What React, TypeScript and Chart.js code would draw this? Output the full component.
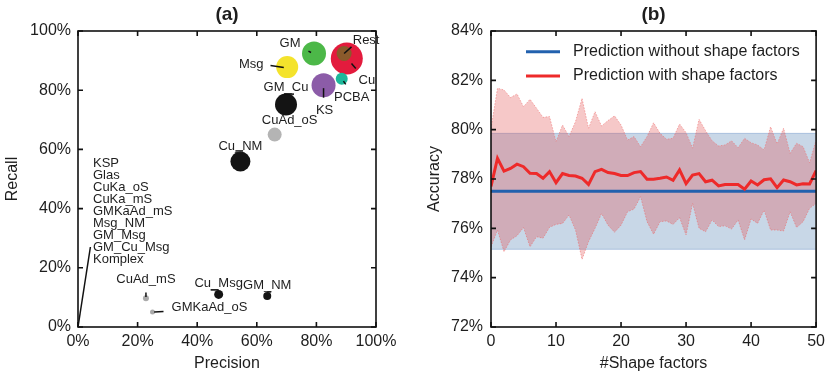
import React, { useEffect, useRef } from 'react';
import { Chart, registerables } from 'chart.js';

Chart.register(...registerables);

const FONT = "'Liberation Sans', Arial, Helvetica, sans-serif";
const TEXT = '#1e1e1e';

// ---------- Panel (a): precision / recall per class ----------
const classNames = [
  'Cu', 'Rest', 'GM', 'Msg', 'PCBA', 'KS', 'GM_Cu', 'CuAd_oS', 'Cu_NM',
  'Cu_Msg', 'GM_NM', 'CuAd_mS', 'GMKaAd_oS',
  'KSP', 'Glas', 'CuKa_oS', 'CuKa_mS', 'GMKaAd_mS', 'Msg_NM', 'GM_Msg', 'GM_Cu_Msg', 'Komplex',
];
const precision = [90.2, 89.3, 79.2, 70.2, 88.5, 82.4, 69.8, 66.0, 54.5, 47.2, 63.5, 22.8, 25.0, 0, 0, 0, 0, 0, 0, 0, 0, 0];
const recall = [90.7, 92.4, 92.4, 87.8, 83.9, 81.7, 75.2, 65.0, 55.9, 11.0, 10.5, 9.7, 5.1, 0, 0, 0, 0, 0, 0, 0, 0, 0];
const bubbleRadius = [16, 7.5, 12, 11, 6, 12, 11, 7, 10, 4.5, 4, 3, 2.5, 1, 1, 1, 1, 1, 1, 1, 1, 1];
const bubbleColors = [
  '#e31b3d', '#8a5a2b', '#4cb848', '#f4e32c', '#1db89b', '#8c5ca8', '#141414', '#b4b4b4', '#141414',
  '#141414', '#141414', '#aaaaaa', '#aaaaaa',
  '#141414', '#141414', '#141414', '#141414', '#141414', '#141414', '#141414', '#141414', '#141414',
];
const stackedNames = ['KSP', 'Glas', 'CuKa_oS', 'CuKa_mS', 'GMKaAd_mS', 'Msg_NM', 'GM_Msg', 'GM_Cu_Msg', 'Komplex'];

// ---------- Panel (b): accuracy vs number of shape factors ----------
const shapeFactors = [
  0, 1, 2, 3, 4, 5, 6, 7, 8, 9, 10, 11, 12, 13, 14, 15, 16, 17, 18, 19, 20, 21, 22, 23, 24, 25,
  26, 27, 28, 29, 30, 31, 32, 33, 34, 35, 36, 37, 38, 39, 40, 41, 42, 43, 44, 45, 46, 47, 48, 49, 50,
];
const accWith = [
  77.7, 78.84, 78.32, 78.43, 78.6, 78.5, 78.23, 78.22, 78.03, 78.3, 77.85, 78.22, 78.14, 78.12, 78.03, 77.78,
  78.3, 78.39, 78.26, 78.22, 78.14, 78.14, 78.26, 78.3, 77.99, 77.99, 78.03, 78.08, 77.95, 78.37, 77.81,
  78.16, 78.22, 77.89, 77.95, 77.72, 77.78, 77.78, 77.78, 77.59, 77.92, 77.76, 77.97, 78.01, 77.65, 77.96,
  77.89, 77.76, 77.81, 77.8, 78.34,
];
const accWithUpper = [
  80.05, 81.68, 81.61, 81.3, 81.45, 80.93, 81.23, 80.87, 80.5, 80.53, 79.51, 80.19, 79.72, 80.33, 81.27, 80.06,
  80.73, 80.15, 80.37, 80.56, 80.19, 79.58, 79.72, 79.31, 79.72, 80.28, 79.85, 79.61, 79.65, 80.23, 79.88,
  79.25, 80.42, 79.96, 79.55, 79.34, 79.38, 79.55, 79.27, 79.65, 79.47, 79.38, 79.18, 80.12, 79.42, 80.06,
  79.04, 79.45, 79.31, 78.66, 79.58,
];
const accWithLower = [
  75.25, 75.93, 75.05, 75.53, 75.7, 76.03, 75.25, 75.66, 75.6, 76.04, 76.16, 76.2, 76.54, 75.93, 74.74, 75.46,
  76.0, 76.6, 76.13, 75.84, 76.13, 76.67, 76.78, 77.28, 76.27, 75.76, 76.27, 76.3, 76.16, 76.43, 75.73,
  77.01, 76.0, 75.86, 76.34, 76.07, 76.1, 75.97, 76.34, 75.53, 76.38, 76.2, 76.74, 75.93, 75.93, 75.89,
  76.67, 76.03, 76.27, 76.81, 77.01,
];
const baselineX = [0, 50];
const accWithout = [77.5, 77.5];
const accWithoutUpper = [79.85, 79.85];
const accWithoutLower = [75.15, 75.15];

// ---------- annotation layout (pixel offsets from each mark) ----------
const labelLayout: Record<string, { dx: number; dy: number; line?: number[] }> = {
  Cu: { dx: 20, dy: 22, line: [4.7, 5, 9, 10] },
  Rest: { dx: 22, dy: -13, line: [0, 0, 7.4, -6.6] },
  GM: { dx: -24, dy: -10, line: [-5.6, -2.3, -3, -1] },
  Msg: { dx: -36, dy: -3, line: [-16.7, -1.7, -3.4, 0.3] },
  PCBA: { dx: 10, dy: 19, line: [1.7, 2.4, 4, 5.7] },
  KS: { dx: 1, dy: 25, line: [0, 3, 0, 12.5] },
  GM_Cu: { dx: 0, dy: -17, line: [-2, -10.3, 8, -10.3] },
  CuAd_oS: { dx: 15, dy: -14 },
  Cu_NM: { dx: 0, dy: -15, line: [-5, -10.6, 2.7, -10.6] },
  Cu_Msg: { dx: 0, dy: -11, line: [-8, -4.5, 0, -4.5] },
  GM_NM: { dx: 0, dy: -10, line: [0, -4, 4, -4] },
  CuAd_mS: { dx: 0, dy: -19, line: [0, -5.7, 0, -1.3] },
  GMKaAd_oS: { dx: 57, dy: -4, line: [1.7, 0, 11, -0.5] },
};

const framePlugin = {
  id: 'frame',
  afterDraw(chart: any, _args: any, opts: any) {
    const { ctx, chartArea: a, scales } = chart;
    ctx.save();
    ctx.strokeStyle = '#111';
    ctx.lineWidth = 1.6;
    const tl = 5;
    ctx.beginPath();
    for (const t of scales.x.ticks) {
      const px = scales.x.getPixelForValue(t.value);
      ctx.moveTo(px, a.bottom);
      ctx.lineTo(px, a.bottom - tl);
      ctx.moveTo(px, a.top);
      ctx.lineTo(px, a.top + tl);
    }
    for (const t of scales.y.ticks) {
      const py = scales.y.getPixelForValue(t.value);
      ctx.moveTo(a.left, py);
      ctx.lineTo(a.left + tl, py);
      ctx.moveTo(a.right, py);
      ctx.lineTo(a.right - tl, py);
    }
    ctx.stroke();
    ctx.strokeRect(a.left, a.top, a.right - a.left, a.bottom - a.top);
    if (opts && opts.title) {
      ctx.fillStyle = TEXT;
      ctx.font = `bold 19px ${FONT}`;
      ctx.textAlign = 'center';
      ctx.textBaseline = 'middle';
      ctx.fillText(opts.title, (a.left + a.right) / 2, 15);
    }
    ctx.restore();
  },
};

const pointLabelsPlugin = {
  id: 'pointLabels',
  afterDatasetsDraw(chart: any) {
    const { ctx } = chart;
    const meta = chart.getDatasetMeta(0);
    ctx.save();
    ctx.fillStyle = TEXT;
    ctx.strokeStyle = '#111';
    ctx.lineWidth = 1.5;
    ctx.font = `13px ${FONT}`;
    ctx.textBaseline = 'middle';
    classNames.forEach((name, i) => {
      const lay = labelLayout[name];
      if (!lay) return;
      const el = meta.data[i];
      const cx = el.x;
      const cy = el.y;
      if (lay.line) {
        ctx.beginPath();
        ctx.moveTo(cx + lay.line[0], cy + lay.line[1]);
        ctx.lineTo(cx + lay.line[2], cy + lay.line[3]);
        ctx.stroke();
      }
      ctx.textAlign = 'center';
      ctx.fillText(name, cx + lay.dx, cy + lay.dy);
    });
    // stacked labels for the classes at the origin
    const idx0 = classNames.indexOf(stackedNames[0]);
    const o = meta.data[idx0];
    ctx.beginPath();
    ctx.moveTo(o.x, o.y);
    ctx.lineTo(o.x + 12.4, o.y - 80);
    ctx.stroke();
    ctx.textAlign = 'left';
    stackedNames.forEach((name, k) => {
      ctx.fillText(name, o.x + 15, o.y - 163.4 + k * 11.95);
    });
    ctx.restore();
  },
};

const legendPlugin = {
  id: 'insideLegend',
  afterDraw(chart: any) {
    const { ctx, chartArea: a } = chart;
    const items = [chart.data.datasets[1], chart.data.datasets[0]];
    ctx.save();
    ctx.font = `16px ${FONT}`;
    ctx.textBaseline = 'middle';
    ctx.textAlign = 'left';
    items.forEach((ds: any, k: number) => {
      const y = a.top + 20.7 + k * 24.3;
      ctx.strokeStyle = ds.borderColor;
      ctx.lineWidth = 3;
      ctx.beginPath();
      ctx.moveTo(a.left + 35, y);
      ctx.lineTo(a.left + 69, y);
      ctx.stroke();
      ctx.fillStyle = TEXT;
      ctx.fillText(ds.label, a.left + 82, y);
    });
    ctx.restore();
  },
};

const tickFont = { family: FONT, size: 16 };
const titleFont = { family: FONT, size: 16 };

export default function App() {
  const refA = useRef<HTMLCanvasElement | null>(null);
  const refB = useRef<HTMLCanvasElement | null>(null);

  useEffect(() => {
    const chartA = new Chart(refA.current as HTMLCanvasElement, {
      type: 'bubble',
      data: {
        datasets: [
          {
            label: 'classes',
            data: classNames.map((_, i) => ({ x: precision[i], y: recall[i], r: bubbleRadius[i] })),
            backgroundColor: bubbleColors,
            borderWidth: 0,
            hoverRadius: 0,
          } as any,
        ],
      },
      options: {
        responsive: false,
        animation: false,
        events: [],
        layout: { padding: { top: 31, right: 39, left: 0, bottom: 0 } },
        plugins: {
          legend: { display: false },
          tooltip: { enabled: false },
          frame: { title: '(a)' },
        } as any,
        scales: {
          x: {
            type: 'linear',
            min: 0,
            max: 100,
            grid: { display: false, drawTicks: false },
            border: { display: false },
            ticks: { stepSize: 20, font: tickFont, color: TEXT, padding: 5, callback: (v: any) => `${v}%` },
            title: { display: true, text: 'Precision', font: titleFont, color: TEXT, padding: { top: 0, bottom: 4 } },
            afterFit: (s: any) => { s.height = 50; },
          },
          y: {
            type: 'linear',
            min: 0,
            max: 100,
            grid: { display: false, drawTicks: false },
            border: { display: false },
            ticks: { stepSize: 20, font: tickFont, color: TEXT, padding: 7, callback: (v: any) => `${v}%` },
            title: { display: true, text: 'Recall', font: titleFont, color: TEXT, padding: { top: 3, bottom: 0 } },
            afterFit: (s: any) => { s.width = 78; },
          },
        },
      },
      plugins: [pointLabelsPlugin, framePlugin],
    });

    const pts = (xs: number[], ys: number[]) => xs.map((x, i) => ({ x, y: ys[i] }));

    const chartB = new Chart(refB.current as HTMLCanvasElement, {
      type: 'line',
      data: {
        datasets: [
          {
            label: 'Prediction with shape factors',
            data: pts(shapeFactors, accWith),
            borderColor: '#ee2a2a',
            borderWidth: 3,
            pointRadius: 0,
            fill: false,
            tension: 0,
          },
          {
            label: 'Prediction without shape factors',
            data: pts(baselineX, accWithout),
            borderColor: '#2261ae',
            borderWidth: 3,
            pointRadius: 0,
            fill: false,
          },
          {
            label: 'with upper',
            data: pts(shapeFactors, accWithUpper),
            borderColor: 'rgba(240,110,110,0.55)',
            borderWidth: 1,
            borderDash: [1.5, 1.5],
            backgroundColor: 'rgba(226,74,74,0.3)',
            pointRadius: 0,
            fill: '+1',
          },
          {
            label: 'with lower',
            data: pts(shapeFactors, accWithLower),
            borderColor: 'rgba(240,110,110,0.55)',
            borderWidth: 1,
            borderDash: [1.5, 1.5],
            pointRadius: 0,
            fill: false,
          },
          {
            label: 'without upper',
            data: pts(baselineX, accWithoutUpper),
            borderColor: 'rgba(110,150,205,0.45)',
            borderWidth: 1,
            backgroundColor: 'rgba(72,122,176,0.3)',
            pointRadius: 0,
            fill: '+1',
          },
          {
            label: 'without lower',
            data: pts(baselineX, accWithoutLower),
            borderColor: 'rgba(110,150,205,0.45)',
            borderWidth: 1,
            pointRadius: 0,
            fill: false,
          },
        ] as any,
      },
      options: {
        responsive: false,
        animation: false,
        events: [],
        layout: { padding: { top: 31, right: 12, left: 0, bottom: 0 } },
        plugins: {
          legend: { display: false },
          tooltip: { enabled: false },
          frame: { title: '(b)' },
        } as any,
        scales: {
          x: {
            type: 'linear',
            min: 0,
            max: 50,
            grid: { display: false, drawTicks: false },
            border: { display: false },
            ticks: { stepSize: 10, font: tickFont, color: TEXT, padding: 5 },
            title: { display: true, text: '#Shape factors', font: titleFont, color: TEXT, padding: { top: 0, bottom: 4 } },
            afterFit: (s: any) => { s.height = 50; },
          },
          y: {
            type: 'linear',
            min: 72,
            max: 84,
            grid: { display: false, drawTicks: false },
            border: { display: false },
            ticks: { stepSize: 2, font: tickFont, color: TEXT, padding: 8, callback: (v: any) => `${v}%` },
            title: { display: true, text: 'Accuracy', font: titleFont, color: TEXT, padding: { top: 10, bottom: 0 } },
            afterFit: (s: any) => { s.width = 76; },
          },
        },
      },
      plugins: [framePlugin, legendPlugin],
    });

    return () => {
      chartA.destroy();
      chartB.destroy();
    };
  }, []);

  return (
    <div style={{ position: 'absolute', left: 0, top: 0, width: 830, height: 377, background: '#fff' }}>
      <canvas ref={refA} width={415} height={377} style={{ position: 'absolute', left: 0, top: 0 }} />
      <canvas ref={refB} width={415} height={377} style={{ position: 'absolute', left: 415, top: 0 }} />
    </div>
  );
}
